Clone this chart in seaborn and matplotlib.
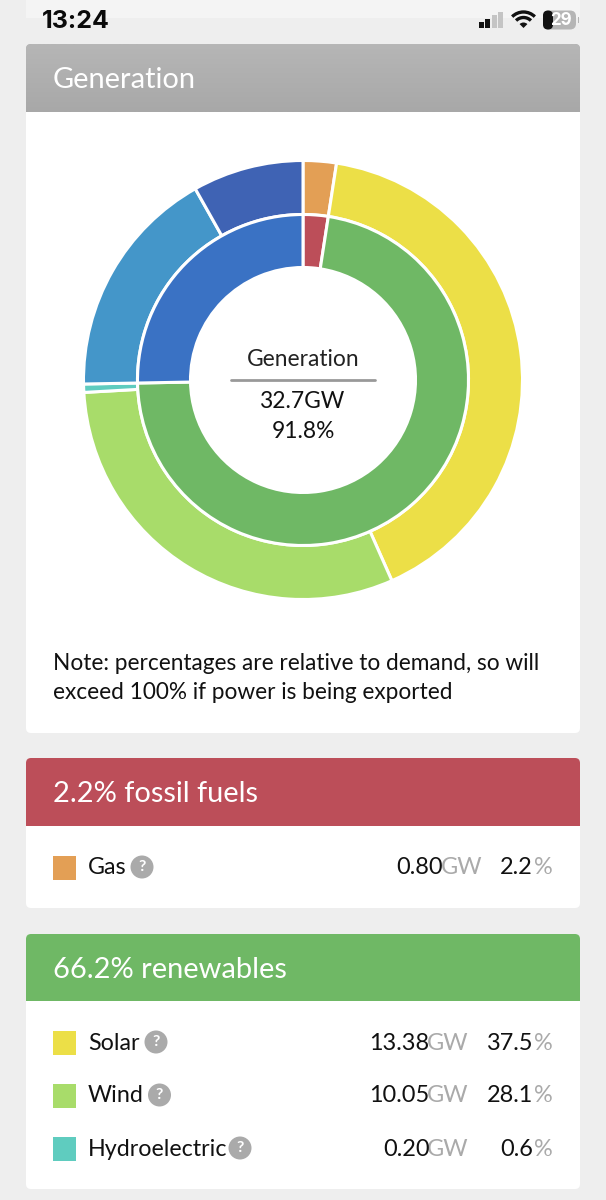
import numpy as np
import matplotlib
matplotlib.use("Agg")
import matplotlib.pyplot as plt
from matplotlib.colors import LinearSegmentedColormap
from matplotlib.patches import FancyBboxPatch, Rectangle, Circle, Arc, Wedge
import seaborn as sns

# ---------- data ----------
outer_labels = ["Gas", "Solar", "Wind", "Hydroelectric", "Other A", "Other B"]
outer_gw = [0.80, 13.38, 10.05, 0.20, 5.60, 2.67]
outer_colors = ["#e39f55", "#ecdf47", "#a8dc6a", "#5fccbf", "#4496c9", "#3f63b4"]
inner_labels = ["Fossil fuels", "Renewables", "Other"]
inner_gw = [0.80, 23.63, 8.27]
inner_colors = ["#bc4e59", "#6fb865", "#3a72c4"]

center_title = "Generation"
center_total = "32.7GW"
center_pct = "91.8%"
note_lines = ["Note: percentages are relative to demand, so will",
              "exceed 100% if power is being exported"]

fossil_title = "2.2% fossil fuels"
renew_title = "66.2% renewables"
fossil_rows = ["Gas"]
fossil_vals = ["0.80"]
fossil_pcts = ["2.2"]
fossil_cols = ["#e39f55"]
renew_rows = ["Solar", "Wind", "Hydroelectric"]
renew_vals = ["13.38", "10.05", "0.20"]
renew_pcts = ["37.5", "28.1", "0.6"]
renew_cols = ["#ecdf47", "#a8dc6a", "#5fccbf"]

# ---------- figure ----------
sns.set_theme(style="white")
plt.rcParams["font.family"] = ["Lato", "DejaVu Sans"]
W, H = 606, 1200
fig = plt.figure(figsize=(W / 100, H / 100), dpi=100, facecolor="#eeeeee")
bg = fig.add_axes([0, 0, 1, 1])
bg.set_xlim(0, W)
bg.set_ylim(H, 0)
bg.axis("off")


def px(s):
    return s * 0.72


def card(y0, y1, yh, color, title, x0=26, x1=580):
    body = FancyBboxPatch((x0 + 4, y0 + 4), x1 - x0 - 8, y1 - y0 - 8,
                          boxstyle="round,pad=4,rounding_size=5",
                          fc="white", ec="none", zorder=1)
    bg.add_patch(body)
    head = FancyBboxPatch((x0 + 4, y0 + 4), x1 - x0 - 8, yh - y0,
                          boxstyle="round,pad=4,rounding_size=5",
                          fc=color, ec="none", zorder=2)
    bg.add_patch(head)
    bg.add_patch(Rectangle((x0, yh), x1 - x0, 12, fc="white", ec="none", zorder=3))
    bg.text(53, (y0 + yh) / 2 + 2, title, color="white", fontsize=px(29),
            va="center", ha="left", zorder=5)
    return head


def row(y, color, name, icon_x, val, pct, x_gw, x_pct=553):
    bg.add_patch(Rectangle((53, y - 11), 23, 23.5, fc=color, ec="none", zorder=4))
    bg.text(88, y + 1, name, fontsize=px(23.2), color="#111111", va="center", ha="left", zorder=5)
    bg.add_patch(Circle((icon_x, y), 11.5, fc="#aaaaaa", ec="none", zorder=4))
    bg.text(icon_x, y, "?", fontsize=px(16), color="white", va="center",
            ha="center", fontweight="bold", zorder=5)
    bg.text(x_gw, y + 1, "GW", fontsize=px(23.5), color="#aaaaaa", va="center", ha="right", zorder=5)
    bg.text(x_gw - 39.5, y + 1, val, fontsize=px(23.5), color="#111111", va="center", ha="right", zorder=5)
    bg.text(x_pct, y + 1, "%", fontsize=px(23.5), color="#aaaaaa", va="center", ha="right", zorder=5)
    bg.text(x_pct - 20, y + 1, pct, fontsize=px(23.5), color="#111111", va="center", ha="right", zorder=5)


# top band
bg.add_patch(Rectangle((26, 0), 554, 18, fc="#f4f4f4", ec="none", zorder=0))

# cards
gray_head = card(44, 733, 112, "#ababab", "Generation")
gray_map = LinearSegmentedColormap.from_list("head", ["#b6b6b6", "#a8a8a8"])
im = bg.imshow(np.linspace(0, 1, 64).reshape(-1, 1), extent=(26, 580, 112, 44),
               cmap=gray_map, aspect="auto", zorder=2.5)
im.set_clip_path(gray_head)
bg.set_xlim(0, W)
bg.set_ylim(H, 0)
card(758, 908, 826, inner_colors[0], fossil_title)
card(934, 1189, 1001, inner_colors[1], renew_title)

# rows
for nm, v, p, c in zip(fossil_rows, fossil_vals, fossil_pcts, fossil_cols):
    row(867, c, nm, 142, v, p, 482)
for y, nm, ix, v, p, c in zip([1042, 1095, 1148], renew_rows, [156, 159.5, 240],
                              renew_vals, renew_pcts, renew_cols):
    row(y, c, nm, ix, v, p, 469)

# note
bg.text(53, 663.5, note_lines[0], fontsize=px(22.6), color="#111111", va="center", zorder=5)
bg.text(53, 692.5, note_lines[1], fontsize=px(22.6), color="#111111", va="center", zorder=5)

# status bar
bg.text(42, 21, "13:24", fontsize=px(25), fontweight="bold", color="#0a0a0a",
        va="center", ha="left", family=["Inter", "DejaVu Sans"], zorder=6)
for bx, h, c in zip([478.5, 485, 491.5, 498], [6, 9, 13, 16],
                    ["#111111", "#111111", "#c4c4c4", "#c4c4c4"]):
    bg.add_patch(Rectangle((bx, 28 - h), 5, h, fc=c, ec="none", zorder=6))
for r in [16, 10.5]:
    bg.add_patch(Arc((523.5, 28), 2 * r, 2 * r, theta1=225, theta2=315,
                     color="#111111", lw=2.4, zorder=6))
bg.add_patch(Wedge((523.5, 28), 5.5, 225, 315, fc="#111111", ec="none", zorder=6))
bg.add_patch(FancyBboxPatch((543, 10.5), 33, 19, boxstyle="round,pad=0,rounding_size=6",
                            fc="#b5b5b5", ec="none", zorder=6))
bg.add_patch(FancyBboxPatch((543, 10.5), 10, 19, boxstyle="round,pad=0,rounding_size=5",
                            fc="#111111", ec="none", zorder=7))
bg.add_patch(Rectangle((577.5, 17), 1.5, 6, fc="#b5b5b5", ec="none", zorder=6))
bg.text(561, 20.5, "29", fontsize=px(17), fontweight="bold", color="white",
        va="center", ha="center", family=["Inter", "DejaVu Sans"], zorder=8)

# donut
cx, cy, R = 303, 380, 219.5
ax = fig.add_axes([(cx - R) / W, 1 - (cy + R) / H, 2 * R / W, 2 * R / H])
ax.patch.set_alpha(0)
ax.pie(outer_gw, colors=outer_colors, radius=1.0, startangle=90, counterclock=False,
       wedgeprops=dict(width=54 / R, edgecolor="white", linewidth=2.2))
ax.pie(inner_gw, colors=inner_colors, radius=165.5 / R, startangle=90, counterclock=False,
       wedgeprops=dict(width=53 / R, edgecolor="white", linewidth=2.2))
ax.set_xlim(-1.0, 1.0)
ax.set_ylim(-1.0, 1.0)
ax.set_aspect("equal")

# centre text
top = fig.add_axes([0, 0, 1, 1])
top.set_xlim(0, W)
top.set_ylim(H, 0)
top.axis("off")
top.patch.set_alpha(0)
top.text(cx, 359, center_title, fontsize=px(22.7), color="#222222", ha="center", va="center")
top.plot([231, 375], [380, 380], color="#999999", lw=2)
top.text(cx, 402, center_total, fontsize=px(22.7), color="#111111", ha="center", va="center")
top.text(cx, 431, center_pct, fontsize=px(22.7), color="#111111", ha="center", va="center")

fig.savefig("out.png", dpi=100, facecolor=fig.get_facecolor())
